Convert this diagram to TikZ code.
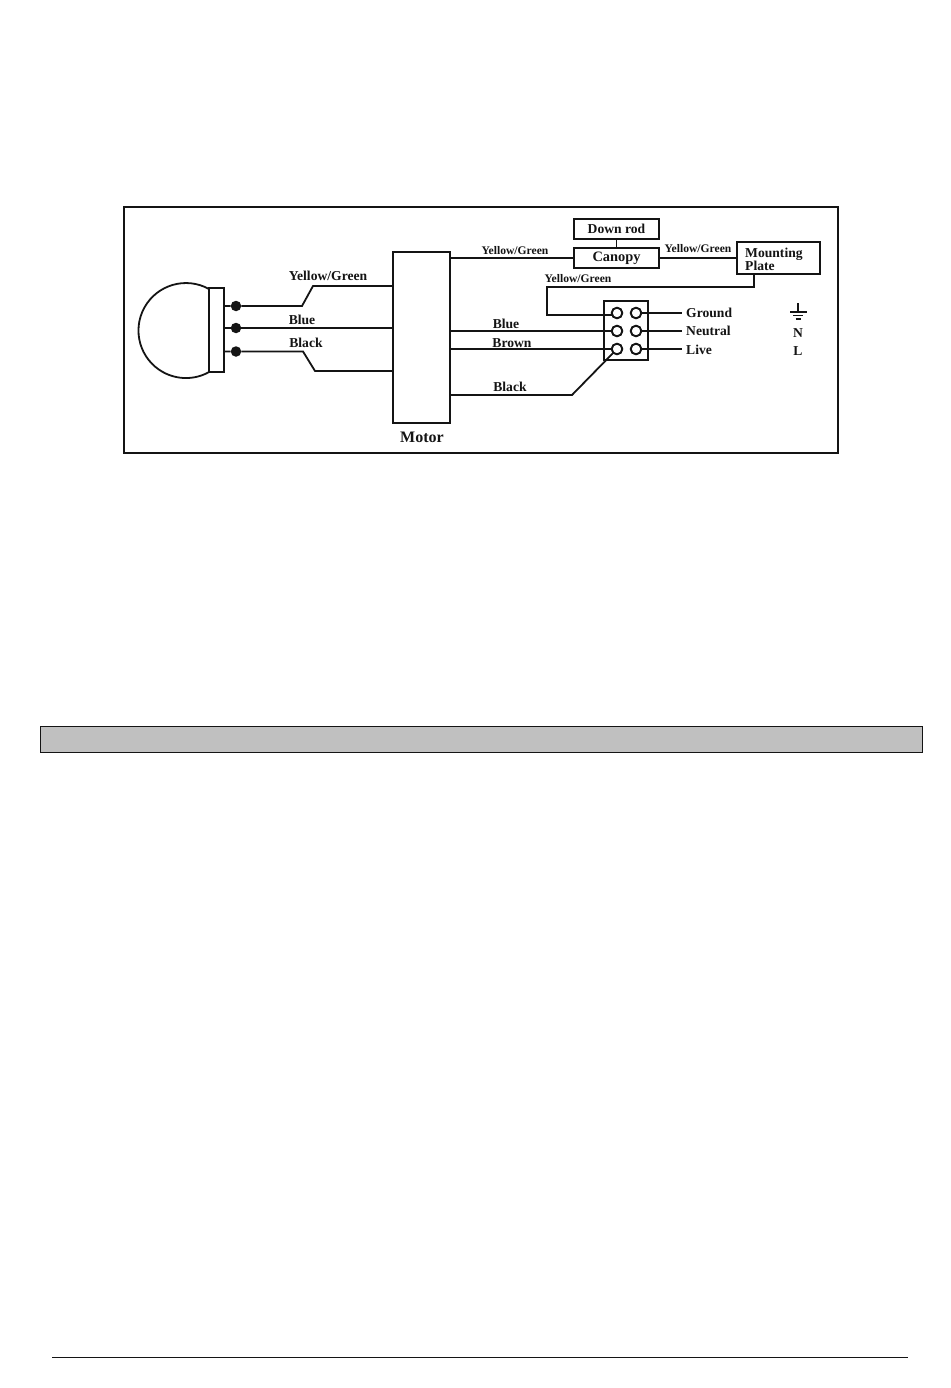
\documentclass[tikz,border=0pt]{standalone}
\usepackage{xcolor}
\usepackage{fontspec}
\setmainfont{Liberation Serif}
\definecolor{ink}{HTML}{141414}
\definecolor{bar}{HTML}{C0C0C0}
\tikzset{
  line/.style={draw=ink, line width=1.8pt},
  frameline/.style={draw=ink, line width=2.2pt},
  boxnode/.style={draw=ink, line width=2pt, inner sep=0pt, font=\bfseries\fontsize{13.6}{13}\selectfont, text=ink},
  dot/.style={circle, fill=ink, inner sep=0pt, minimum size=10.5pt},
  pin/.style={circle, draw=ink, line width=1.8pt, fill=white, inner sep=0pt, minimum size=10.5pt},
  lbl/.style={text=ink, inner sep=0pt, font=\bfseries\fontsize{11.6}{12}\selectfont},
  midlbl/.style={text=ink, inner sep=0pt, font=\bfseries\fontsize{13.6}{14}\selectfont},
  biglbl/.style={text=ink, inner sep=0pt, font=\bfseries\fontsize{16}{16}\selectfont}
}
\begin{document}
\begin{tikzpicture}[x=1pt,y=-1pt]
  \useasboundingbox (0,0) rectangle (950,1388);

  % outer frame, grey bar and foot rule
  \draw[frameline] (124,207) rectangle (838,453);
  \draw[draw=ink, line width=0.8pt, fill=bar] (40,726) rectangle (922,752);
  \draw[draw=ink, line width=0.9pt] (52,1357) -- (908,1357);

  % lamp
  \draw[line] (209,289) arc[start angle=-61, end angle=-299, radius=47.5];
  \node[boxnode, minimum width=15pt, minimum height=84pt] (lampbase) at (216.5,330) {};
  \node[dot] (dotyg) at (236,306) {};
  \node[dot] (dotblue) at (236,328) {};
  \node[dot] (dotblack) at (236,351.5) {};

  % boxes
  \node[boxnode, minimum width=57pt, minimum height=171pt] (motor) at (421.5,337.5) {};
  \node[boxnode, minimum width=85pt, minimum height=20pt] (downrod) at (616.5,229) {Down rod};
  \node[boxnode, minimum width=85pt, minimum height=20pt, font=\bfseries\fontsize{14.4}{14}\selectfont] (canopy) at (616.5,258) {Canopy};
  \node[boxnode, minimum width=83pt, minimum height=32pt] (plate) at (778.5,258) {};
  \node[boxnode, minimum width=44pt, minimum height=59pt] (block) at (626,330.5) {};

  % terminals
  \node[pin] (t1) at (617,313) {};
  \node[pin] (t2) at (617,331) {};
  \node[pin] (t3) at (617,349) {};
  \node[pin] (t4) at (636,313) {};
  \node[pin] (t5) at (636,331) {};
  \node[pin] (t6) at (636,349) {};

  % knees
  \coordinate (yga) at (302,306);
  \coordinate (ygb) at (313,286);
  \coordinate (bka) at (303,351.5);
  \coordinate (bkb) at (315,371);
  \coordinate (mba) at (572,395);
  \coordinate (pla) at (754,287);
  \coordinate (plb) at (547,287);
  \coordinate (plc) at (547,315);
  \coordinate (gnd) at (682,313);
  \coordinate (neu) at (682,331);
  \coordinate (liv) at (682,349);

  % wires, lamp side
  \draw[line] (lampbase.east |- dotyg) -- (dotyg) -- (yga) -- (ygb) -- (motor.west |- ygb);
  \draw[line] (lampbase.east |- dotblue) -- (dotblue) -- (motor.west |- dotblue);
  \draw[line] (lampbase.east |- dotblack) -- (dotblack) -- (bka) -- (bkb) -- (motor.west |- bkb);

  % wires, supply side
  \draw[line] (motor.east |- canopy) -- (canopy.west);
  \draw[line] (downrod) -- (canopy);
  \draw[line] (canopy.east) -- (plate.west |- canopy);
  \draw[line] (plate.south -| pla) -- (pla) -- (plb) -- (plc) -- (plc -| t1);
  \draw[line] (motor.east |- t2) -- (t2);
  \draw[line] (motor.east |- t3) -- (t3);
  \draw[line] (motor.east |- mba) -- (mba) -- (t3);
  \draw[line] (t4) -- (gnd);
  \draw[line] (t5) -- (neu);
  \draw[line] (t6) -- (liv);
  \node[pin] at (t1) {};
  \node[pin] at (t2) {};
  \node[pin] at (t3) {};
  \node[pin] at (t4) {};
  \node[pin] at (t5) {};
  \node[pin] at (t6) {};

  % earth sign
  \draw[line] (798,303) -- (798,312);
  \draw[line] (790,312) -- (807,312);
  \draw[line] (793,315.5) -- (803,315.5);
  \draw[line] (795.5,319) -- (800.5,319);

  % labels
  \node[midlbl, anchor=west, align=left] (lplate) at (745,259.5) {Mounting\\[-1pt]Plate};
  \node[midlbl] (lyg) at (328,276) {Yellow/Green};
  \node[midlbl] (lbluea) at (302,320) {Blue};
  \node[midlbl] (lblacka) at (306,343) {Black};
  \node[biglbl] (lmotor) at (422,437) {Motor};
  \node[lbl] (lygb) at (515,251) {Yellow/Green};
  \node[lbl] (lygc) at (698,249) {Yellow/Green};
  \node[lbl] (lygd) at (578,279) {Yellow/Green};
  \node[midlbl] (lblueb) at (506,324) {Blue};
  \node[midlbl] (lbrown) at (512,343) {Brown};
  \node[midlbl] (lblackb) at (510,387) {Black};
  \node[midlbl, anchor=west] (lground) at (686,313) {Ground};
  \node[midlbl, anchor=west] (lneutral) at (686,331) {Neutral};
  \node[midlbl, anchor=west] (llive) at (686,350) {Live};
  \node[midlbl] (ln) at (798,333) {N};
  \node[midlbl] (ll) at (798,351) {L};
\end{tikzpicture}
\end{document}
